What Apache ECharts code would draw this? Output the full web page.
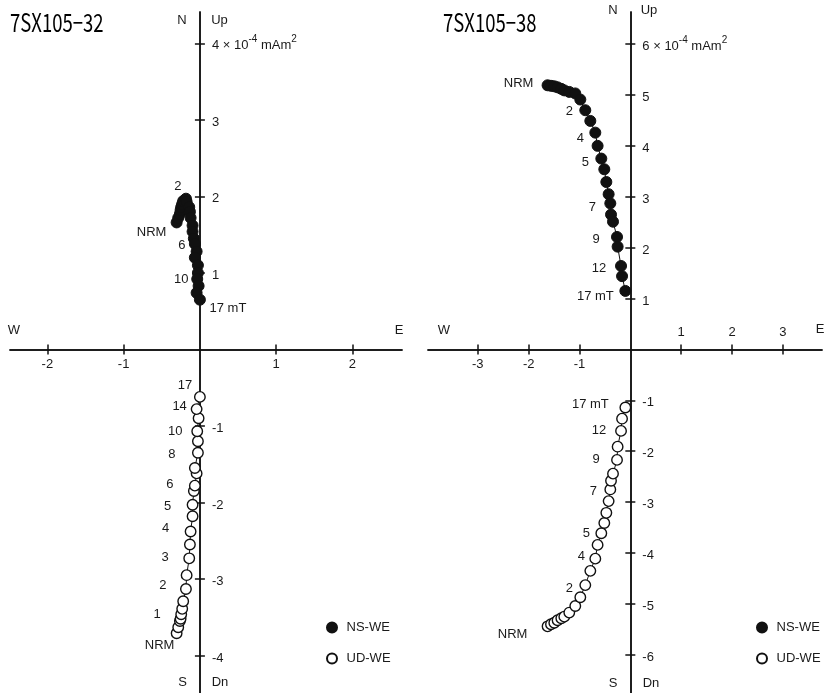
<!DOCTYPE html>
<html>
<head>
<meta charset="utf-8">
<script src="https://cdn.jsdelivr.net/npm/echarts@6.0.0/dist/echarts.min.js"></script>
<style>
html,body{margin:0;padding:0;background:#fff;}
#chart{width:825px;height:693px;}
</style>
</head>
<body>
<div id="chart"></div>
<script>
// ---------------- DATA ----------------
// Sample 7SX105-32 (x = East component shared by both projections)
const leftEast  = [-0.305,-0.284,-0.262,-0.253,-0.245,-0.232,-0.219,-0.183,-0.174,-0.140,-0.131,-0.122,-0.096,-0.096,-0.079,-0.066,-0.043,-0.066,-0.026,-0.026,-0.035,-0.017,-0.043,0.0];
const leftNorth = [1.66,1.72,1.77,1.82,1.86,1.90,1.94,1.97,1.93,1.86,1.80,1.72,1.62,1.54,1.45,1.38,1.28,1.20,1.10,1.00,0.92,0.83,0.74,0.65];
const leftUp    = [-3.71,-3.63,-3.55,-3.52,-3.46,-3.39,-3.29,-3.13,-2.95,-2.73,-2.55,-2.38,-2.18,-2.03,-1.85,-1.78,-1.62,-1.55,-1.35,-1.20,-1.07,-0.90,-0.78,-0.62];

// Sample 7SX105-38
const rightEast  = [-1.628,-1.561,-1.496,-1.431,-1.358,-1.299,-1.201,-1.083,-0.984,-0.886,-0.787,-0.689,-0.644,-0.571,-0.512,-0.472,-0.427,-0.394,-0.380,-0.341,-0.262,-0.250,-0.183,-0.163,-0.098];
const rightNorth = [5.19,5.18,5.17,5.15,5.12,5.09,5.06,5.03,4.91,4.70,4.49,4.26,4.00,3.75,3.54,3.29,3.05,2.87,2.65,2.51,2.21,2.02,1.64,1.44,1.15];
const rightUp    = [-5.44,-5.40,-5.37,-5.32,-5.28,-5.25,-5.17,-5.04,-4.87,-4.63,-4.35,-4.11,-3.84,-3.61,-3.41,-3.21,-2.98,-2.75,-2.58,-2.44,-2.17,-1.91,-1.60,-1.36,-1.14];

// Tick values
const leftXTicks  = [-2,-1,1,2];
const leftYTicks  = [-4,-3,-2,-1,1,2,3,4];
const rightXTicks = [-3,-2,-1,1,2,3];
const rightYTicks = [-6,-5,-4,-3,-2,-1,1,2,3,4,5,6];

// Step annotations (point index -> text)
const leftNorthSteps  = [[0,'NRM'],[7,'2'],[15,'6'],[20,'10'],[23,'17 mT']];
const leftUpSteps     = [[23,'17'],[22,'14'],[20,'10'],[18,'8'],[15,'6'],[13,'5'],[11,'4'],[9,'3'],[7,'2'],[4,'1'],[0,'NRM']];
const rightNorthSteps = [[0,'NRM'],[9,'2'],[11,'4'],[13,'5'],[17,'7'],[20,'9'],[22,'12'],[24,'17 mT']];
const rightUpSteps    = [[24,'17 mT'],[22,'12'],[20,'9'],[17,'7'],[13,'5'],[11,'4'],[9,'2'],[0,'NRM']];

// ---------------- STYLE / LAYOUT ----------------
const labelOffsets = {
  leftNorth:  {0:[-25,10],7:[-8,-12],15:[-13,2],20:[-16,0],23:[28,9]},
  leftUp:     {23:[-15,-11],22:[-17,-3],20:[-22,0],18:[-26,2],15:[-25,-1],13:[-25,2],11:[-25,-3],9:[-24,-1],7:[-23,-4],4:[-24,0],0:[-17,12]},
  rightNorth: {0:[-29,-1.5],9:[-16,1],11:[-15,6],13:[-16,4],17:[-18,4],20:[-21,2],22:[-22,2],24:[-30,6]},
  rightUp:    {24:[-35,-3],22:[-22,0],20:[-21,0],17:[-17,2],13:[-15,0],11:[-14,-2],9:[-16,3],0:[-35,8]}
};
const FONT = 'Liberation Sans, Arial, sans-serif';
const INK = '#111';
const TXT = '#1a1a1a';

function buildData(xs, ys, steps, offs) {
  const map = {};
  steps.forEach(s => { map[s[0]] = s[1]; });
  return xs.map((x, i) => {
    const item = { value: [x, ys[i]] };
    if (map[i] !== undefined) {
      item.label = {
        show: true, formatter: map[i], position: 'inside',
        offset: offs[i] || [0, 0], align: 'center', verticalAlign: 'middle',
        color: TXT, fontSize: 13, fontFamily: FONT
      };
    }
    return item;
  });
}

const gridLeft  = { left: 10, top: 12, width: 392, height: 681, outerBoundsMode: 'none', containLabel: false };
const gridRight = { left: 428, top: 12, width: 394, height: 681, outerBoundsMode: 'none', containLabel: false };
const leftRange  = { xmin: -2.49, xmax: 2.65, ymin: -4.49, ymax: 4.41 };
const rightRange = { xmin: -3.98, xmax: 3.77, ymin: -6.75, ymax: 6.63 };

const axisLineStyle = { onZero: false, lineStyle: { color: INK, width: 1.5 } };
const tickStyle = { color: INK, width: 1.5 };
const labelBase = { color: TXT, fontSize: 13, fontFamily: FONT };

// offsets that move the axes from the grid edge to the zero line
function xZeroOffset(grid, r) { return -grid.height * (0 - r.ymin) / (r.ymax - r.ymin); }
function yZeroOffset(grid, r) { return -grid.width * (0 - r.xmin) / (r.xmax - r.xmin); }

function supLabel(v, top, unitTop) {
  if (v === top) return '{a|' + unitTop + ' × 10}{s|-4}{a| mAm}{s|2}';
  return '{a|' + String(v) + '}';
}
const richSup = {
  a: { fontSize: 13, fontFamily: FONT, color: TXT, lineHeight: 18, verticalAlign: 'bottom' },
  s: { fontSize: 10, fontFamily: FONT, color: TXT, lineHeight: 10, verticalAlign: 'top' }
};

function xAxes(g, grid, r, belowVals, aboveVals) {
  const off = xZeroOffset(grid, r);
  const all = belowVals.concat(aboveVals);
  return [
    { type: 'value', gridIndex: g, min: r.xmin, max: r.xmax, position: 'bottom', offset: off,
      axisLine: axisLineStyle, splitLine: { show: false },
      axisTick: { show: true, inside: true, length: 5, lineStyle: tickStyle, customValues: all },
      axisLabel: Object.assign({ show: belowVals.length > 0, customValues: belowVals.length ? belowVals : [1], margin: 8 }, labelBase) },
    { type: 'value', gridIndex: g + 1, min: r.xmin, max: r.xmax, position: 'bottom', offset: off,
      axisLine: axisLineStyle, splitLine: { show: false },
      axisTick: { show: true, inside: false, length: 5, lineStyle: tickStyle, customValues: all },
      axisLabel: Object.assign({ show: aboveVals.length > 0, inside: true, customValues: aboveVals.length ? aboveVals : [1], margin: 11 }, labelBase) }
  ];
}
function yAxes(g, grid, r, vals, top, unitTop) {
  const off = yZeroOffset(grid, r);
  return [
    { type: 'value', gridIndex: g, min: r.ymin, max: r.ymax, position: 'left', offset: off,
      axisLine: axisLineStyle, splitLine: { show: false },
      axisTick: { show: true, inside: true, length: 5, lineStyle: tickStyle, customValues: vals },
      axisLabel: { show: true, inside: true, margin: 12, customValues: vals,
        formatter: v => supLabel(v, top, unitTop), rich: richSup } },
    { type: 'value', gridIndex: g + 1, min: r.ymin, max: r.ymax, position: 'left', offset: off,
      axisLine: axisLineStyle, splitLine: { show: false },
      axisTick: { show: true, inside: false, length: 5, lineStyle: tickStyle, customValues: vals },
      axisLabel: { show: false } }
  ];
}

function lineSeries(name, xi, yi, data, filled) {
  return {
    name: name, type: 'line', xAxisIndex: xi, yAxisIndex: yi, data: data,
    symbol: 'circle', symbolSize: filled ? 11 : 10.5, showSymbol: true, showAllSymbol: true,
    lineStyle: { color: INK, width: 1 },
    itemStyle: filled ? { color: INK, borderColor: INK, borderWidth: 1 } : { color: '#fff', borderColor: INK, borderWidth: 1.4 },
    emphasis: { disabled: true }, silent: true, z: 3
  };
}

const legendBase = {
  orient: 'vertical', icon: 'circle', itemWidth: 19, itemHeight: 10, itemGap: 18,
  textStyle: { color: TXT, fontSize: 13, fontFamily: FONT },
  data: ['NS-WE', 'UD-WE'], selectedMode: false
};

function txt(x, y, t) {
  return { type: 'text', x: x, y: y, style: {
    text: t, fill: TXT, font: '13px ' + FONT, textAlign: 'center', textVerticalAlign: 'middle' } };
}
function title(x, y, t) {
  return { type: 'text', x: x, y: y, scaleX: 0.74, style: {
    text: t, fill: '#000', font: '25px "Noto Sans CJK JP", sans-serif', textAlign: 'left', textVerticalAlign: 'middle' } };
}

const option = {
  animation: false,
  backgroundColor: '#fff',
  grid: [
    Object.assign({}, gridLeft), Object.assign({}, gridLeft),
    Object.assign({}, gridRight), Object.assign({}, gridRight)
  ],
  xAxis: [].concat(
    xAxes(0, gridLeft, leftRange, leftXTicks, []),
    xAxes(2, gridRight, rightRange, rightXTicks.filter(v => v < 0), rightXTicks.filter(v => v > 0))),
  yAxis: [].concat(
    yAxes(0, gridLeft, leftRange, leftYTicks, 4, '4'),
    yAxes(2, gridRight, rightRange, rightYTicks, 6, '6')),
  legend: [
    Object.assign({ left: 321, top: 616 }, legendBase),
    Object.assign({ left: 751, top: 616 }, legendBase)
  ],
  series: [
    lineSeries('NS-WE', 0, 0, buildData(leftEast, leftNorth, leftNorthSteps, labelOffsets.leftNorth), true),
    lineSeries('UD-WE', 0, 0, buildData(leftEast, leftUp, leftUpSteps, labelOffsets.leftUp), false),
    lineSeries('NS-WE', 2, 2, buildData(rightEast, rightNorth, rightNorthSteps, labelOffsets.rightNorth), true),
    lineSeries('UD-WE', 2, 2, buildData(rightEast, rightUp, rightUpSteps, labelOffsets.rightUp), false)
  ],
  graphic: [
    title(10, 22, '7SX105−32'),
    title(443, 22, '7SX105−38'),
    txt(182, 20, 'N'), txt(219.5, 20, 'Up'), txt(182.5, 682, 'S'), txt(220, 682, 'Dn'),
    txt(14, 330, 'W'), txt(399, 330, 'E'),
    txt(613, 10, 'N'), txt(649, 10, 'Up'), txt(613, 683, 'S'), txt(651, 683, 'Dn'),
    txt(444, 330, 'W'), txt(820, 329, 'E')
  ]
};

const chart = echarts.init(document.getElementById('chart'), null, { renderer: 'canvas' });
chart.setOption(option);
</script>
</body>
</html>
